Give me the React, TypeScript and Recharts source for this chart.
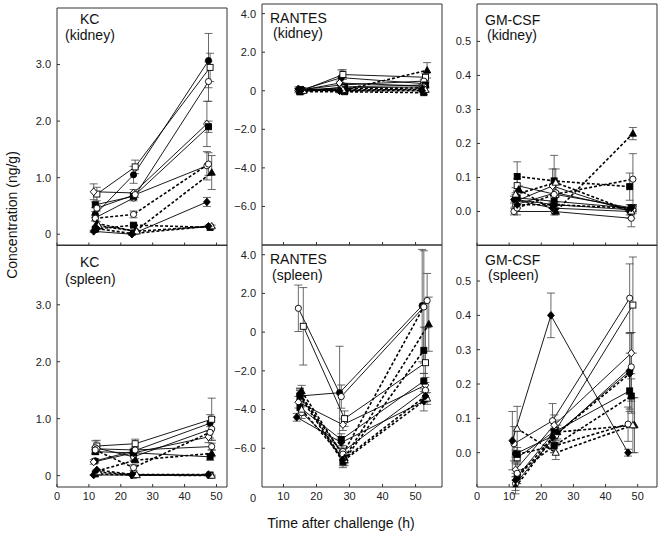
import React from "react";
import { LineChart, Line, XAxis, YAxis, ErrorBar } from "recharts";

// marker style of each of the 12 series (same order in every panel)
const seriesShape = ["circle", "square", "circle", "diamond", "square", "circle", "circle", "triangle", "diamond", "square", "triangle", "diamond"];
const seriesFilled = [true, false, false, false, true, false, false, true, true, true, false, true];
const seriesDashed = [false, false, false, false, false, false, true, true, false, true, true, true];

// KC, kidney
const kcKidneyTime = [
  [12, 24, 47.5], [12.5, 24.5, 48], [12, 24, 47.5], [11.5, 24, 47], [12, 24, 47.5], [12.5, 24.5, 47],
  [12, 24, 47.5], [12.5, 24.5, 48.5], [11.5, 23.5, 47], [12, 24, 48], [13, 25, 48.5], [12.5, 23.5, 47.5],
];
const kcKidneyVal = [
  [0.35, 1.05, 3.07], [0.71, 1.19, 2.95], [0.29, 0.64, 2.7], [0.75, 0.73, 1.95], [0.52, 0.67, 1.9], [0.46, 0.7, 1.21],
  [0.28, 0.35, 1.24], [0.19, 0.05, 1.09], [0.05, 0.0, 0.57], [0.09, 0.16, 0.12], [0.15, 0.05, 0.14], [0.1, 0.01, 0.14],
];
const kcKidneyErr = [
  [0.05, 0.15, 0.48], [0.12, 0.12, 0.25], [0.05, 0.05, 0.35], [0.14, 0.06, 0.4], [0.05, 0.05, 0.1], [0.05, 0.05, 0.25],
  [0.05, 0.06, 0.2], [0.03, 0.03, 0.3], [0.02, 0.02, 0.08], [0.02, 0.02, 0.02], [0.02, 0.02, 0.02], [0.02, 0.01, 0.02],
];

// KC, spleen
const kcSpleenTime = [
  [12, 24, 48], [12.5, 24.5, 48.5], [12, 24, 48.5], [11.5, 24, 47.5], [12, 24, 48], [12.5, 24.5, 48.5],
  [12, 24, 48], [12.5, 24.5, 48.5], [11.5, 23.5, 47.5], [12, 24, 48], [13, 25, 48.5], [12.5, 23.5, 47.5],
];
const kcSpleenVal = [
  [0.26, 0.43, 0.92], [0.52, 0.56, 0.99], [0.49, 0.33, 0.82], [0.24, 0.4, 0.68], [0.42, 0.4, 0.33], [0.47, 0.45, 0.51],
  [0.45, 0.14, 0.76], [0.08, 0.27, 0.39], [0.01, 0.01, 0.01], [0.03, 0.01, 0.01], [0.06, 0.01, 0.0], [0.1, 0.02, 0.02],
];
const kcSpleenErr = [
  [0.04, 0.05, 0.15], [0.1, 0.08, 0.37], [0.12, 0.06, 0.2], [0.04, 0.05, 0.1], [0.04, 0.04, 0.06], [0.05, 0.05, 0.06],
  [0.05, 0.05, 0.1], [0.02, 0.03, 0.06], [0.01, 0.01, 0.01], [0.01, 0.01, 0.01], [0.01, 0.01, 0.01], [0.01, 0.01, 0.01],
];

// RANTES, kidney
const rantesKidneyTime = [
  [15, 27.5, 52.5], [15.5, 28, 53], [15, 27.5, 52.5], [14.5, 27, 52], [15, 28.5, 53], [15.5, 28, 52.5],
  [15, 27.5, 52], [16, 28.5, 53.5], [14.5, 27, 52], [15, 28.5, 52.5], [16, 28, 53], [15.5, 27, 52],
];
const rantesKidneyVal = [
  [0.02, 0.68, 0.37], [0.0, 0.84, 0.7], [0.05, 0.3, 0.5], [0.0, 0.4, 0.25], [-0.05, 0.2, 0.3], [0.05, 0.15, 0.2],
  [0.0, 0.1, 0.15], [0.05, 0.05, 1.06], [0.1, 0.0, 0.1], [-0.05, -0.05, -0.1], [0.0, 0.05, 0.05], [0.05, 0.0, 0.0],
];
const rantesKidneyErr = [
  [0.1, 0.4, 0.1], [0.1, 0.25, 0.2], [0.1, 0.1, 0.1], [0.1, 0.1, 0.1], [0.1, 0.1, 0.1], [0.1, 0.1, 0.1],
  [0.1, 0.1, 0.1], [0.1, 0.1, 0.4], [0.1, 0.1, 0.1], [0.1, 0.1, 0.1], [0.1, 0.1, 0.1], [0.1, 0.1, 0.1],
];

// RANTES, spleen
const rantesSpleenTime = [
  [15, 27, 52], [16, 28.5, 53], [14.5, 27.5, 52.5], [14.5, 28, 53], [15, 27.5, 52.5], [15.5, 28, 53],
  [15, 28, 53.5], [15.5, 28.5, 54], [14, 27.5, 52.5], [15, 28, 52.5], [15.5, 28.5, 53.5], [15, 28, 53],
];
const rantesSpleenVal = [
  [-3.3, -3.13, 1.37], [0.3, -4.47, -1.58], [1.23, -3.33, 1.3], [-3.62, -4.78, -2.74], [-3.9, -5.55, -2.53], [-4.16, -6.17, -3.0],
  [-3.2, -6.3, 1.63], [-3.05, -6.5, 0.41], [-4.4, -5.7, -3.57], [-3.3, -6.7, -0.94], [-4.0, -6.6, -3.43], [-3.2, -6.6, -3.3],
];
const rantesSpleenErr = [
  [0.3, 2.4, 2.9], [2.0, 0.4, 1.8], [1.2, 0.6, 2.9], [0.3, 0.3, 0.4], [0.3, 0.3, 0.4], [0.3, 0.3, 0.4],
  [0.3, 0.3, 1.4], [0.3, 0.3, 1.4], [0.2, 0.3, 0.5], [0.3, 0.3, 1.2], [0.3, 0.3, 0.3], [0.3, 0.3, 0.3],
];

// GM-CSF, kidney
const gmKidneyTime = [
  [12, 24, 48], [12.5, 24.5, 48.5], [11.5, 24, 48], [12, 23.5, 47.5], [12.5, 24, 48], [12, 24.5, 48.5],
  [12.5, 24, 48.5], [13, 24.5, 48.5], [11.5, 23.5, 47.5], [12.5, 24, 47.5], [12, 24.5, 48], [12.5, 23.5, 48],
];
const gmKidneyVal = [
  [0.035, 0.02, 0.005], [0.076, 0.05, 0.01], [0.0, 0.0, -0.02], [0.03, 0.075, 0.0], [0.04, 0.03, 0.01], [0.02, 0.055, 0.005],
  [0.01, 0.05, 0.095], [0.065, 0.0, 0.229], [0.035, 0.01, 0.0], [0.103, 0.09, 0.073], [0.05, 0.085, 0.0], [0.02, 0.02, 0.01],
];
const gmKidneyErr = [
  [0.02, 0.02, 0.015], [0.02, 0.03, 0.01], [0.01, 0.01, 0.025], [0.02, 0.05, 0.02], [0.02, 0.02, 0.01], [0.01, 0.03, 0.01],
  [0.02, 0.04, 0.075], [0.01, 0.01, 0.018], [0.01, 0.01, 0.01], [0.043, 0.075, 0.04], [0.02, 0.04, 0.02], [0.01, 0.01, 0.01],
];

// GM-CSF, spleen
const gmSpleenTime = [
  [12, 24, 47.5], [12.5, 24.5, 48.5], [11.5, 23.5, 47.5], [12, 24, 48], [12.5, 24, 47.5], [12, 24.5, 48],
  [12.5, 24, 47], [12, 25, 49], [11, 23, 47], [12.5, 24, 48], [12.5, 24.5, 48.5], [12, 23.5, 47.5],
];
const gmSpleenVal = [
  [-0.003, 0.05, 0.237], [-0.015, 0.065, 0.43], [0.026, 0.093, 0.45], [-0.05, 0.08, 0.29], [-0.07, 0.06, 0.18], [-0.09, 0.05, 0.25],
  [-0.06, 0.02, 0.083], [-0.1, 0.06, 0.08], [0.035, 0.4, 0.0], [-0.005, 0.02, 0.165], [0.07, 0.0, 0.08], [-0.08, 0.045, 0.23],
];
const gmSpleenErr = [
  [0.01, 0.02, 0.11], [0.02, 0.03, 0.14], [0.05, 0.05, 0.1], [0.02, 0.03, 0.06], [0.02, 0.03, 0.06], [0.02, 0.02, 0.1],
  [0.03, 0.02, 0.05], [0.02, 0.02, 0.08], [0.085, 0.065, 0.01], [0.02, 0.02, 0.05], [0.065, 0.02, 0.08], [0.02, 0.02, 0.06],
];

const xTickValues = [0, 10, 20, 30, 40, 50];
const rantesXTicks = [10, 20, 30, 40, 50];
const kcTicks = [0, 1, 2, 3];
const rantesTicks = [-6, -4, -2, 0, 2, 4];
const gmTicks = [0, 0.1, 0.2, 0.3, 0.4, 0.5];

const FONT = "Arial, 'Liberation Sans', sans-serif";
const Y_AXIS_W = 45;
const AXIS = "#333";

function markerRenderer(shape: string, filled: boolean) {
  return (props: any) => {
    const { cx, cy, index } = props;
    const k = `m-${index}`;
    if (cx == null || cy == null) return <g key={k} />;
    const common = { fill: filled ? "#000" : "#fff", stroke: "#000", strokeWidth: 0.9 };
    switch (shape) {
      case "square":
        return <rect key={k} x={cx - 3} y={cy - 3} width={6} height={6} {...common} />;
      case "triangle":
        return <path key={k} d={`M${cx},${cy - 3.8}L${cx + 3.6},${cy + 2.6}L${cx - 3.6},${cy + 2.6}Z`} {...common} />;
      case "diamond":
        return <path key={k} d={`M${cx},${cy - 3.8}L${cx + 3.4},${cy}L${cx},${cy + 3.8}L${cx - 3.4},${cy}Z`} {...common} />;
      default:
        return <circle key={k} cx={cx} cy={cy} r={3.1} {...common} />;
    }
  };
}

type PanelProps = {
  px: number;
  py: number;
  pw: number;
  ph: number;
  showXLabels: boolean;
  xDomain: [number, number];
  xTicks: number[];
  yDomain: [number, number];
  yTicks: number[];
  yFormat: (v: number) => string;
  times: number[][];
  vals: number[][];
  errs: number[][];
};

// px/py/pw/ph = plot box in page pixels
function Panel(p: PanelProps) {
  const xh = p.showXLabels ? 24 : 1;
  return (
    <div style={{ position: "absolute", left: p.px - Y_AXIS_W, top: p.py - 2 }}>
      <LineChart
        width={Y_AXIS_W + p.pw + 2}
        height={2 + p.ph + xh}
        margin={{ top: 1, right: 1, bottom: 0, left: 0 }}
      >
        <XAxis
          xAxisId="b"
          type="number"
          dataKey="x"
          domain={p.xDomain}
          allowDataOverflow
          ticks={p.xTicks}
          interval={0}
          height={xh}
          tickSize={-3}
          tickMargin={8}
          stroke={AXIS}
          tickFormatter={p.showXLabels ? (v: number) => String(v) : () => ""}
          tick={{ fontSize: 11, fill: "#222", fontFamily: FONT }}
        />
        <XAxis
          xAxisId="t"
          orientation="top"
          type="number"
          dataKey="x"
          domain={p.xDomain}
          allowDataOverflow
          height={1}
          tick={false}
          tickLine={false}
          stroke={AXIS}
        />
        <YAxis
          yAxisId="l"
          type="number"
          domain={p.yDomain}
          allowDataOverflow
          ticks={p.yTicks}
          interval={0}
          width={Y_AXIS_W}
          tickSize={-3}
          tickMargin={9}
          stroke={AXIS}
          tickFormatter={p.yFormat}
          tick={{ fontSize: 11, fill: "#222", fontFamily: FONT }}
        />
        <YAxis
          yAxisId="r"
          orientation="right"
          type="number"
          domain={p.yDomain}
          allowDataOverflow
          width={1}
          tick={false}
          tickLine={false}
          stroke={AXIS}
        />
        {p.vals.map((row, i) => {
          const data = row.map((y, j) => ({ x: p.times[i][j], y, e: p.errs[i][j] }));
          const dashed = seriesDashed[i];
          return (
            <Line
              key={i}
              xAxisId="b"
              yAxisId="l"
              data={data}
              dataKey="y"
              type="linear"
              stroke="#000"
              strokeWidth={dashed ? 1.6 : 0.9}
              strokeDasharray={dashed ? "3 2" : undefined}
              dot={markerRenderer(seriesShape[i], seriesFilled[i])}
              activeDot={false}
              isAnimationActive={false}
            >
              <ErrorBar dataKey="e" direction="y" width={4} stroke="#444" strokeWidth={0.8} />
            </Line>
          );
        })}
      </LineChart>
    </div>
  );
}

const kcFormat = (v: number) => (v === 0 ? "0" : v.toFixed(1));
const rantesFormat = (v: number) => (v === 0 ? "0" : v < 0 ? "\u2212" + Math.abs(v).toFixed(1) : v.toFixed(1));
const gmFormat = (v: number) => v.toFixed(1);

export default function App() {
  return (
    <div style={{ position: "absolute", left: 0, top: 0, width: 661, height: 535, background: "#fff", fontFamily: FONT }}>
      <Panel px={57} py={7.5} pw={170} ph={237.5} showXLabels={false} xDomain={[0, 53.3]} xTicks={xTickValues}
        yDomain={[-0.2, 4.0]} yTicks={kcTicks} yFormat={kcFormat} times={kcKidneyTime} vals={kcKidneyVal} errs={kcKidneyErr} />
      <Panel px={57} py={245} pw={170} ph={242} showXLabels={true} xDomain={[0, 53.3]} xTicks={xTickValues}
        yDomain={[-0.2, 4.05]} yTicks={kcTicks} yFormat={kcFormat} times={kcSpleenTime} vals={kcSpleenVal} errs={kcSpleenErr} />
      <Panel px={262} py={4} pw={180} ph={241} showXLabels={false} xDomain={[3.5, 58]} xTicks={rantesXTicks}
        yDomain={[-8, 4.5]} yTicks={rantesTicks} yFormat={rantesFormat} times={rantesKidneyTime} vals={rantesKidneyVal} errs={rantesKidneyErr} />
      <Panel px={262} py={245} pw={180} ph={242} showXLabels={true} xDomain={[3.5, 58]} xTicks={rantesXTicks}
        yDomain={[-8, 4.5]} yTicks={rantesTicks} yFormat={rantesFormat} times={rantesSpleenTime} vals={rantesSpleenVal} errs={rantesSpleenErr} />
      <Panel px={477} py={3.5} pw={180} ph={241.5} showXLabels={false} xDomain={[0, 56]} xTicks={xTickValues}
        yDomain={[-0.1, 0.61]} yTicks={gmTicks} yFormat={gmFormat} times={gmKidneyTime} vals={gmKidneyVal} errs={gmKidneyErr} />
      <Panel px={477} py={245} pw={180} ph={242} showXLabels={true} xDomain={[0, 56]} xTicks={xTickValues}
        yDomain={[-0.1, 0.605]} yTicks={gmTicks} yFormat={gmFormat} times={gmSpleenTime} vals={gmSpleenVal} errs={gmSpleenErr} />
      <svg width={661} height={535} style={{ position: "absolute", left: 0, top: 0, pointerEvents: "none" }}>
        <g fontFamily={FONT} fontSize={14} fill="#111">
          <text x={80} y={24}>KC</text>
          <text x={65} y={40}>(kidney)</text>
          <text x={270} y={23}>RANTES</text>
          <text x={273} y={38}>(kidney)</text>
          <text x={485} y={25}>GM-CSF</text>
          <text x={487} y={40}>(kidney)</text>
          <text x={80} y={267}>KC</text>
          <text x={65} y={284}>(spleen)</text>
          <text x={270} y={264}>RANTES</text>
          <text x={272} y={280}>(spleen)</text>
          <text x={485} y={265}>GM-CSF</text>
          <text x={488} y={280}>(spleen)</text>
        </g>
        <text x={253} y={502} fontFamily={FONT} fontSize={11} fill="#222" textAnchor="middle">0</text>
        <text x={341} y={528} fontFamily={FONT} fontSize={14} fill="#111" textAnchor="middle">Time after challenge (h)</text>
        <text x={12} y={215} fontFamily={FONT} fontSize={14} fill="#111" textAnchor="middle" dominantBaseline="central" transform="rotate(-90 12 215)">
          Concentration (ng/g)
        </text>
      </svg>
    </div>
  );
}
